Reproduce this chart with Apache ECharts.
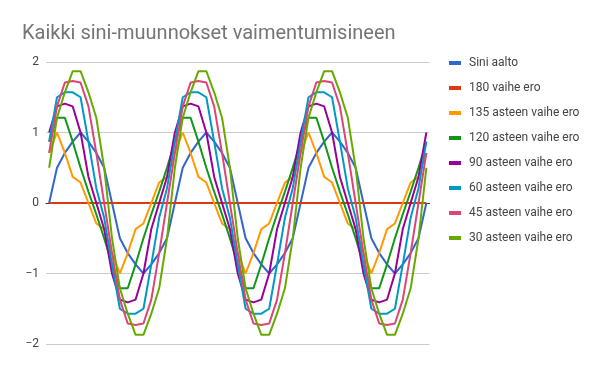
<!DOCTYPE html>
<html><head><meta charset="utf-8">
<script src="https://cdn.jsdelivr.net/npm/echarts@6/dist/echarts.min.js"></script>
<style>html,body{margin:0;padding:0;background:#fff}#c{width:600px;height:371px}</style>
</head><body><div id="c"></div>
<script>
const categories = [0,30,45,60,90,120,135,150,180,210,225,240,270,300,315,330,
360,390,405,420,450,480,495,510,540,570,585,600,630,660,675,690,
720,750,765,780,810,840,855,870,900,930,945,960,990,1020,1035,1050,
1080];
const yTicks = [-2,-1,0,1,2];
const seriesNames = ['Sini aalto','180 vaihe ero','135 asteen vaihe ero','120 asteen vaihe ero','90 asteen vaihe ero','60 asteen vaihe ero','45 asteen vaihe ero','30 asteen vaihe ero'];
const sini = [0,0.5,0.71,0.87,1,0.87,0.71,0.5,0,-0.5,-0.71,-0.87,-1,-0.87,-0.71,-0.5,
0,0.5,0.71,0.87,1,0.87,0.71,0.5,0,-0.5,-0.71,-0.87,-1,-0.87,-0.71,-0.5,
0,0.5,0.71,0.87,1,0.87,0.71,0.5,0,-0.5,-0.71,-0.87,-1,-0.87,-0.71,-0.5,
0];
const ero180 = [0,0,0,0,0,0,0,0,0,0,0,0,0,0,0,0,
0,0,0,0,0,0,0,0,0,0,0,0,0,0,0,0,
0,0,0,0,0,0,0,0,0,0,0,0,0,0,0,0,
0];
const ero135 = [0.71,1,0.71,0.37,0.29,0,-0.29,-0.37,-0.71,-1,-0.71,-0.37,-0.29,0,0.29,0.37,
0.71,1,0.71,0.37,0.29,0,-0.29,-0.37,-0.71,-1,-0.71,-0.37,-0.29,0,0.29,0.37,
0.71,1,0.71,0.37,0.29,0,-0.29,-0.37,-0.71,-1,-0.71,-0.37,-0.29,0,0.29,0.37,
0.71];
const ero120 = [0.87,1.21,1.21,0.87,0.5,0.16,-0.16,-0.5,-0.87,-1.21,-1.21,-0.87,-0.5,-0.16,0.16,0.5,
0.87,1.21,1.21,0.87,0.5,0.16,-0.16,-0.5,-0.87,-1.21,-1.21,-0.87,-0.5,-0.16,0.16,0.5,
0.87,1.21,1.21,0.87,0.5,0.16,-0.16,-0.5,-0.87,-1.21,-1.21,-0.87,-0.5,-0.16,0.16,0.5,
0.87];
const ero90 = [1,1.37,1.41,1.37,1,0.37,0,-0.37,-1,-1.37,-1.41,-1.37,-1,-0.37,0,0.37,
1,1.37,1.41,1.37,1,0.37,0,-0.37,-1,-1.37,-1.41,-1.37,-1,-0.37,0,0.37,
1,1.37,1.41,1.37,1,0.37,0,-0.37,-1,-1.37,-1.41,-1.37,-1,-0.37,0,0.37,
1];
const ero60 = [0.87,1.5,1.57,1.57,1.5,0.87,0.21,-0.21,-0.87,-1.5,-1.57,-1.57,-1.5,-0.87,-0.21,0.21,
0.87,1.5,1.57,1.57,1.5,0.87,0.21,-0.21,-0.87,-1.5,-1.57,-1.57,-1.5,-0.87,-0.21,0.21,
0.87,1.5,1.57,1.57,1.5,0.87,0.21,-0.21,-0.87,-1.5,-1.57,-1.57,-1.5,-0.87,-0.21,0.21,
0.87];
const ero45 = [0.71,1.37,1.71,1.73,1.71,1.37,0.71,0,-0.71,-1.37,-1.71,-1.73,-1.71,-1.37,-0.71,0,
0.71,1.37,1.71,1.73,1.71,1.37,0.71,0,-0.71,-1.37,-1.71,-1.73,-1.71,-1.37,-0.71,0,
0.71,1.37,1.71,1.73,1.71,1.37,0.71,0,-0.71,-1.37,-1.71,-1.73,-1.71,-1.37,-0.71,0,
0.71];
const ero30 = [0.5,1.21,1.57,1.87,1.87,1.57,1.21,0.5,-0.5,-1.21,-1.57,-1.87,-1.87,-1.57,-1.21,-0.5,
0.5,1.21,1.57,1.87,1.87,1.57,1.21,0.5,-0.5,-1.21,-1.57,-1.87,-1.87,-1.57,-1.21,-0.5,
0.5,1.21,1.57,1.87,1.87,1.57,1.21,0.5,-0.5,-1.21,-1.57,-1.87,-1.87,-1.57,-1.21,-0.5,
0.5];
const allValues = [sini, ero180, ero135, ero120, ero90, ero60, ero45, ero30];
const colors = ['#3366cc','#dc3912','#ff9900','#109618','#990099','#0099c6','#dd4477','#66aa00'];

const chart = echarts.init(document.getElementById('c'), null, {renderer:'canvas'});
chart.setOption({
  animation:false,
  backgroundColor:'#fff',
  textStyle:{fontFamily:'Roboto'},
  title:{text:'Kaikki sini-muunnokset vaimentumisineen', left:17, top:19,
    textStyle:{fontFamily:'Roboto', fontSize:20, fontWeight:'normal', color:'#757575'}},
  legend:{orient:'vertical', left:444, top:51, icon:'rect', itemWidth:12, itemHeight:4,
    itemGap:11, data:seriesNames,
    textStyle:{fontFamily:'Roboto', fontSize:12, color:'#444', lineHeight:14, padding:[0,0,0,3]}},
  grid:{left:46, right:170.5, top:62, bottom:27, containLabel:false},
  xAxis:{type:'value', min:-0.4, max:48.4, show:true,
    axisLine:{show:true, onZero:true, lineStyle:{color:'#333', width:1}},
    axisTick:{show:false}, axisLabel:{show:false}, splitLine:{show:false}},
  yAxis:{type:'value', min:yTicks[0], max:yTicks[yTicks.length-1], interval:1,
    axisLine:{show:false}, axisTick:{show:false},
    axisLabel:{margin:7, color:'#444', fontFamily:'Roboto', fontSize:12,
      formatter:v=>String(v).replace('-','\u2212')},
    splitLine:{lineStyle:{color:'#cccccc', width:1}}},
  series: allValues.map((vals,k)=>({
    name:seriesNames[k], type:'line', symbol:'none', smooth:false,
    color:colors[k], lineStyle:{width:2, color:colors[k]},
    data: categories.map((c,i)=>[i, vals[i]])
  }))
});
</script></body></html>
